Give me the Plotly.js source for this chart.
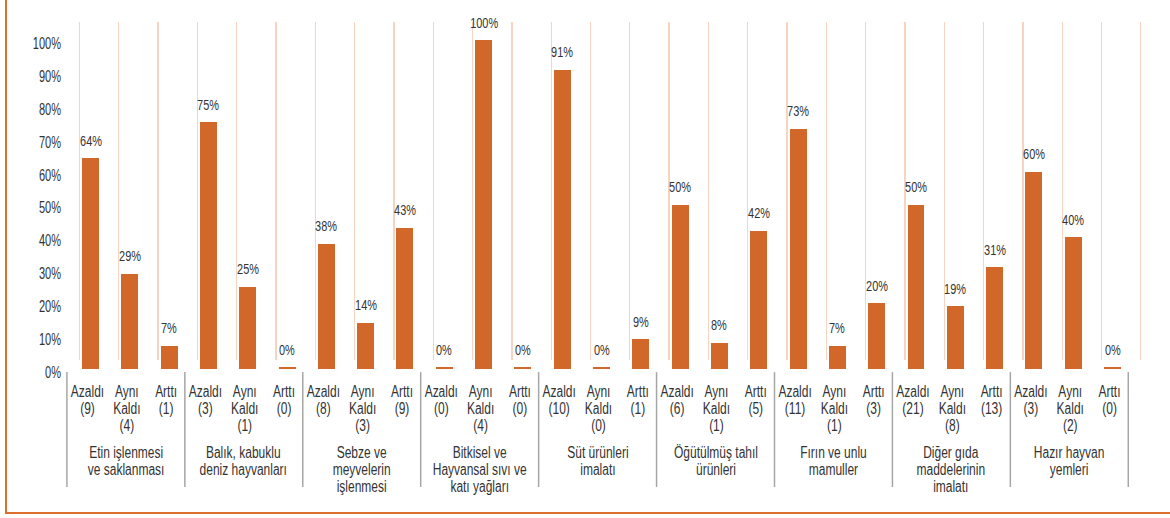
<!DOCTYPE html>
<html>
<head>
<meta charset="utf-8">
<script src="https://cdn.plot.ly/plotly-3.0.1.min.js"></script>
<style>
  html, body { margin:0; padding:0; background:#fff; overflow:hidden; }
  #wrap { position:relative; width:1170px; height:518px; }
  #chart { position:absolute; left:0; top:0; width:1170px; height:518px; }
  #frame { position:absolute; left:5px; top:-2px; width:1200px; height:516px; border:2.5px solid #DE6E2E; box-sizing:border-box; pointer-events:none; }
</style>
</head>
<body>
<div id="wrap">
  <div id="chart"></div>
  <div id="frame"></div>
</div>
<script>
// ---- data ----
const groups = [
  'Etin işlenmesi<br>ve saklanması',
  'Balık, kabuklu<br>deniz hayvanları',
  'Sebze ve<br>meyvelerin<br>işlenmesi',
  'Bitkisel ve<br>Hayvansal sıvı ve<br>katı yağları',
  'Süt ürünleri<br>imalatı',
  'Öğütülmüş tahıl<br>ürünleri',
  'Fırın ve unlu<br>mamuller',
  'Diğer gıda<br>maddelerinin<br>imalatı',
  'Hazır hayvan<br>yemleri'
];
const levels = ['Azaldı', 'Aynı<br>Kaldı', 'Arttı'];
const counts = [
  [9, 4, 1], [3, 1, 0], [8, 3, 9], [0, 4, 0], [10, 0, 1],
  [6, 1, 5], [11, 1, 3], [21, 8, 13], [3, 2, 0]
];
const percents = [
  [64, 29, 7], [75, 25, 0], [38, 14, 43], [0, 100, 0], [91, 0, 9],
  [50, 8, 42], [73, 7, 20], [50, 19, 31], [60, 40, 0]
];
const yTicks = [0, 10, 20, 30, 40, 50, 60, 70, 80, 90, 100];

// ---- font choice (condensed look) ----
function hasFont(name) {
  const c = document.createElement('canvas').getContext('2d');
  const s = 'Azaldı Öğütülmüş 100%';
  let diff = false;
  ['monospace', 'serif'].forEach(fb => {
    c.font = '40px ' + fb; const w0 = c.measureText(s).width;
    c.font = '40px "' + name + '", ' + fb; const w1 = c.measureText(s).width;
    if (Math.abs(w1 - w0) > 0.5) diff = true;
  });
  return diff;
}
const NARROW = hasFont('Liberation Sans Narrow');
const FONT = NARROW ? '"Liberation Sans Narrow", sans-serif' : '"Liberation Sans", Arial, sans-serif';
const K = NARROW ? 1 / 0.82 : 1;
const SQUEEZE = { 15: 0.73 * K, 16: 0.75 * K, 17: 0.65 * K };
const LINE_EM = 1.06;

const TXT = '#333333';
const BAR = '#D2672A';

// ---- build ----
const xs = [], ys = [], tickText = [], values = [];
groups.forEach((g, gi) => {
  levels.forEach((lv, li) => {
    const i = gi * levels.length + li;
    xs.push(i);
    values.push(percents[gi][li]);
    ys.push(Math.max(percents[gi][li], 0.6));
    tickText.push(lv + '<br>(' + counts[gi][li] + ')');
  });
});
const nCat = xs.length;
const gridVals = [];
for (let k = 0; k <= nCat; k++) gridVals.push(k - 0.28);

const annotations = [];
xs.forEach((x, i) => {
  annotations.push({
    x: x, y: ys[i], xref: 'x', yref: 'y', text: values[i] + '%',
    showarrow: false, yanchor: 'middle', yshift: 18,
    font: { family: FONT, size: 15, color: TXT }
  });
});
groups.forEach((g, gi) => {
  annotations.push({
    x: gi * 3 + 0.9, y: -0.21, xref: 'x', yref: 'paper', text: g,
    showarrow: false, yanchor: 'top', xanchor: 'center',
    font: { family: FONT, size: 16, color: TXT }
  });
});
const shapes = [];
for (let gi = 0; gi <= groups.length; gi++) {
  shapes.push({
    type: 'line', xref: 'x', yref: 'paper',
    x0: gi * 3 - 0.6, x1: gi * 3 - 0.6, y0: -0.009, y1: -0.340,
    line: { color: '#A6A6A6', width: 1.5 }
  });
}

const XR = [-0.725, 27.258];
const data = [
  {
    type: 'bar', x: xs, y: ys, width: 0.432,
    marker: { color: BAR }, hoverinfo: 'skip', showlegend: false
  },
  {
    type: 'scatter', x: [0], y: [-5], xaxis: 'x2', yaxis: 'y2',
    mode: 'markers', marker: { opacity: 0 }, hoverinfo: 'skip', showlegend: false
  }
];
const layout = {
  width: 1170, height: 518,
  margin: { l: 62, r: 8, t: 22, b: 149 },
  paper_bgcolor: '#ffffff', plot_bgcolor: 'rgba(0,0,0,0)',
  font: { family: FONT, size: 16, color: TXT },
  xaxis: {
    range: XR, tickvals: xs, ticktext: tickText, showgrid: false, zeroline: false,
    showline: false, ticks: '', tickangle: 0, tickfont: { family: FONT, size: 16, color: TXT },
    ticklabelshift: -3, ticklabelstandoff: 11, fixedrange: true
  },
  yaxis: {
    range: [0, 105.47], tickvals: yTicks, ticktext: yTicks.map(v => v + '%'),
    showgrid: false, zeroline: false, showline: false, ticks: '',
    tickfont: { family: FONT, size: 17, color: TXT }, fixedrange: true
  },
  xaxis2: {
    range: XR, anchor: 'y2', tickvals: gridVals, showgrid: true, gridcolor: '#F6D4C2',
    gridwidth: 1.3, showticklabels: false, ticks: '', zeroline: false, showline: false
  },
  yaxis2: { domain: [0.026, 1], anchor: 'x2', range: [0, 1], visible: false },
  annotations: annotations,
  shapes: shapes,
  bargap: 0
};

function condenseText(gd) {
  document.querySelectorAll('#chart svg text').forEach(t => {
    const fs = Math.round(parseFloat(t.style.fontSize));
    const s = SQUEEZE[fs];
    if (!s) return;
    const bb = t.getBBox();
    const anchor = t.getAttribute('text-anchor') || 'start';
    const cx = anchor === 'middle' ? bb.x + bb.width / 2 : (anchor === 'end' ? bb.x + bb.width : bb.x);
    const tr = t.getAttribute('transform') || '';
    t.setAttribute('transform', tr + ' translate(' + cx + ',0) scale(' + s + ',1) translate(' + (-cx) + ',0)');
    t.querySelectorAll('tspan.line').forEach(sp => {
      const dy = sp.getAttribute('dy');
      if (dy && /em$/.test(dy)) sp.setAttribute('dy', (parseFloat(dy) / 1.3 * LINE_EM) + 'em');
    });
  });
  // nudge y tick labels so they sit slightly below their level, as in the original
  const ya = gd._fullLayout.yaxis;
  const host = document.getElementById('chart').getBoundingClientRect();
  document.querySelectorAll('#chart svg .ytick text').forEach(t => {
    const d = t.__data__;
    if (!d) return;
    const target = ya._offset + ya.l2p(d.x) + 3;
    const r = t.getBoundingClientRect();
    const cy = r.top - host.top + r.height / 2;
    const delta = target - cy;
    const tr = t.getAttribute('transform') || '';
    t.setAttribute('transform', 'translate(0,' + delta + ') ' + tr);
  });
}

Plotly.newPlot('chart', data, layout, { displayModeBar: false, staticPlot: true }).then(condenseText);
</script>
</body>
</html>
